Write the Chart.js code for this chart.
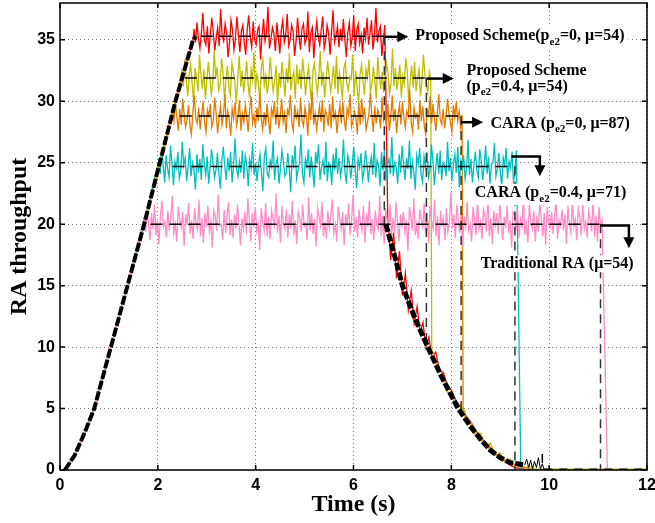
<!DOCTYPE html>
<html>
<head>
<meta charset="utf-8">
<script src="https://cdn.jsdelivr.net/npm/chart.js@4.4.1/dist/chart.umd.min.js"></script>
<style>
  html, body { margin: 0; padding: 0; background: #fff; }
</style>
</head>
<body>
<canvas id="chart" width="655" height="523"></canvas>
<script>
'use strict';

// Axis ticks
const xTicks = [0, 2, 4, 6, 8, 10, 12];
const yTicks = [0, 5, 10, 15, 20, 25, 30, 35];

// Shared ramp (black reference curve)
const rampT = [0.1, 0.3, 0.5, 0.7, 1.04, 1.38, 1.72, 2.04, 2.36, 2.72, 2.78];
const rampV = [0, 1.2, 3.0, 5.0, 10.0, 15.0, 20.0, 25.0, 30.0, 35.0, 35.3];

// Black decay curve
const decayT = [6.66, 6.85, 7.0, 7.25, 7.52, 7.8, 8.14, 8.4, 8.6, 8.8, 9.0, 9.2, 9.5];
const decayV = [20.0, 17.3, 15.0, 12.4, 10.0, 7.6, 5.0, 3.5, 2.5, 1.6, 1.0, 0.6, 0.4];
const zeroNoiseT = [9.5, 9.54, 9.58, 9.62, 9.66, 9.7, 9.74, 9.78, 9.82, 9.86, 9.9];
const zeroNoiseV = [0.4, 0.9, 0.2, 0.8, 0.1, 0.7, 0.2, 1.0, 0.1, 0.5, 0];

// Series
const colors = ['#ff0000', '#bfbf00', '#e07d00', '#00bfbf', '#ff8cc6'];
const levels = [35.3, 31.9, 28.8, 24.7, 20.0];
const plateauStart = [2.74, 2.49, 2.30, 2.02, 1.72];
const plateauEnd = [6.64, 7.58, 8.22, 9.33, 11.08];

const redNoise = [
	35.9, 34.8, 36.4, 35.1, 34.3, 35.6, 37.2, 35.0, 34.6, 36.1,
	33.9, 35.4, 36.8, 35.7, 34.1, 35.2, 36.0, 34.5, 37.5, 35.3,
	34.9, 36.3, 35.5, 33.6, 34.8, 36.6, 35.8, 34.2, 35.1, 36.9,
	35.4, 34.0, 35.7, 36.2, 34.7, 33.8, 35.9, 37.0, 35.2, 34.4,
	36.5, 35.0, 34.6, 35.8, 36.1, 33.4, 35.3, 36.7, 34.9, 35.6,
	37.7, 34.3, 35.1, 36.0, 35.5, 34.1, 36.4, 35.2, 33.9, 35.8,
	36.6, 34.8, 35.4, 37.1, 34.5, 35.0, 36.2, 35.7, 33.7, 34.9,
	36.8, 35.3, 34.2, 35.9, 36.3, 34.7, 35.1, 37.3, 34.0, 35.6,
	36.0, 33.5, 35.4, 36.5, 35.2, 34.6, 35.8, 36.9, 34.3, 35.0,
	36.2, 35.5, 33.8, 35.7, 37.4, 34.8, 35.3, 36.1, 34.4, 35.9,
	34.9, 36.7, 35.0, 33.6, 35.6, 36.4, 34.5, 35.2, 37.0, 34.1,
	35.8, 36.3, 34.7, 35.4, 33.9, 36.0, 35.1, 36.8, 34.6, 35.5,
	36.6, 34.2, 35.3, 37.6, 34.8, 35.7, 36.1, 33.7, 35.0, 36.2
];
const yellowNoise = [
	32.5, 31.2, 33.4, 31.8, 30.4, 32.1, 33.0, 31.5, 29.9, 32.7,
	31.9, 30.8, 33.8, 32.2, 31.0, 32.6, 30.2, 31.7, 33.2, 32.0,
	30.6, 31.4, 34.2, 31.9, 32.8, 30.9, 31.3, 33.5, 32.3, 30.1,
	31.8, 32.9, 31.1, 30.5, 33.1, 32.4, 31.6, 29.8, 32.0, 33.7,
	31.2, 32.5, 30.7, 31.9, 33.3, 31.4, 30.3, 32.6, 31.8, 34.0,
	30.9, 32.2, 31.5, 30.0, 32.8, 33.4, 31.3, 32.1, 30.6, 31.7,
	33.6, 32.0, 30.8, 31.6, 32.9, 29.7, 32.3, 31.1, 33.2, 31.9,
	30.4, 32.7, 31.5, 33.9, 30.9, 31.8, 32.4, 30.2, 33.0, 31.4,
	32.6, 31.0, 33.5, 32.2, 30.5, 31.9, 32.8, 31.3, 29.9, 32.5,
	33.1, 31.7, 30.7, 32.0, 34.1, 31.2, 32.4, 30.3, 31.8, 33.3,
	32.1, 30.8, 31.6, 32.9, 31.0, 33.7, 30.6, 32.3, 31.5, 30.1,
	32.7, 33.2, 31.4, 30.9, 32.0, 31.8, 33.8, 30.4, 32.5, 31.1,
	29.8, 32.2, 33.0, 31.6, 30.5, 32.6, 31.9, 33.4, 30.8, 31.3,
	32.8, 31.7, 30.2, 33.6, 32.1, 31.0, 32.4, 30.7, 31.9, 33.1,
	32.3, 30.6, 31.5, 34.3, 31.2, 32.7, 30.9, 31.8, 33.0, 30.3,
	32.0, 31.4, 33.5, 32.5, 30.0, 31.7, 32.9, 31.1, 33.2, 30.8,
	31.9, 32.6, 30.4, 31.6, 33.8, 32.2, 31.3, 30.7, 32.4, 31.8
];
const orangeNoise = [
	29.2, 28.4, 29.9, 28.7, 27.6, 29.4, 28.1, 30.2, 28.9, 27.9,
	28.5, 29.7, 28.0, 27.3, 29.1, 30.5, 28.6, 28.2, 29.5, 27.7,
	28.9, 30.0, 28.3, 27.5, 29.3, 28.8, 29.8, 27.9, 28.4, 30.3,
	29.0, 27.4, 28.7, 29.6, 28.1, 28.9, 30.6, 27.8, 29.2, 28.5,
	27.2, 29.4, 28.6, 29.9, 28.0, 28.7, 30.1, 27.6, 29.0, 28.3,
	29.7, 28.8, 27.5, 29.3, 30.4, 28.2, 28.9, 27.9, 29.5, 28.4,
	30.7, 28.6, 27.7, 29.1, 28.0, 29.8, 28.5, 27.3, 29.4, 28.8,
	30.0, 28.1, 29.6, 27.8, 28.7, 30.2, 28.3, 29.0, 27.4, 29.3,
	28.9, 30.5, 28.2, 27.6, 29.7, 28.6, 29.2, 27.9, 30.3, 28.4,
	28.0, 29.5, 28.8, 27.2, 29.9, 28.5, 30.8, 28.1, 29.0, 27.7,
	28.7, 29.6, 28.3, 30.1, 27.5, 29.3, 28.9, 28.0, 29.8, 27.8,
	30.4, 28.6, 29.1, 27.4, 28.8, 29.7, 28.2, 30.0, 28.5, 27.6,
	29.4, 28.9, 30.6, 27.9, 28.4, 29.2, 28.7, 27.3, 29.9, 28.1,
	30.2, 28.6, 29.5, 27.7, 28.3, 29.0, 30.7, 28.8, 27.5, 29.6,
	28.2, 29.3, 28.9, 27.8, 30.3, 28.5, 29.1, 28.0, 29.8, 27.6,
	28.7, 30.5, 28.4, 29.4, 27.4, 28.9, 29.7, 28.1, 30.0, 28.6,
	27.9, 29.2, 28.8, 30.9, 28.3, 27.5, 29.5, 28.7, 29.0, 27.7,
	30.1, 28.4, 29.6, 28.0, 27.3, 29.3, 28.9, 30.4, 28.2, 29.8,
	28.6, 27.6, 29.1, 30.6, 28.5, 28.1, 29.4, 27.8, 28.8, 30.2,
	29.0, 28.3, 27.5, 29.7, 28.7, 30.0, 28.4, 29.2, 27.9, 28.9
];
const cyanNoise = [
	25.2, 24.1, 26.0, 24.8, 23.4, 25.6, 24.5, 23.8, 26.4, 24.9,
	23.2, 25.1, 24.6, 25.9, 23.7, 24.3, 26.7, 24.8, 25.4, 23.5,
	24.7, 26.2, 23.9, 25.0, 24.4, 22.8, 25.7, 24.2, 25.3, 23.6,
	26.5, 24.9, 24.0, 25.5, 23.3, 24.6, 26.1, 25.0, 23.8, 24.4,
	25.8, 24.1, 22.9, 25.2, 26.3, 24.7, 23.6, 25.4, 24.3, 25.9,
	23.4, 24.8, 27.0, 24.5, 23.9, 25.1, 24.2, 26.0, 23.7, 25.6,
	24.9, 23.1, 25.3, 24.6, 26.6, 24.0, 25.0, 23.5, 24.8, 25.7,
	24.3, 22.7, 25.5, 26.2, 24.1, 23.8, 25.2, 24.7, 26.8, 23.6,
	24.9, 25.4, 23.3, 24.5, 26.0, 25.1, 23.9, 24.2, 25.8, 24.6,
	22.6, 25.6, 24.8, 26.4, 23.7, 24.4, 25.0, 27.3, 24.1, 23.4,
	25.3, 24.7, 26.1, 23.8, 25.5, 24.3, 23.0, 25.9, 24.9, 26.5,
	23.6, 24.6, 25.2, 24.0, 26.7, 23.5, 25.0, 24.8, 23.2, 25.7,
	24.4, 26.2, 24.1, 25.4, 23.9, 24.7, 26.9, 24.2, 23.3, 25.6,
	25.1, 23.7, 24.9, 26.3, 24.5, 22.9, 25.3, 24.6, 25.8, 23.6,
	24.3, 26.0, 25.0, 23.4, 24.8, 25.5, 24.0, 26.6, 23.8, 25.2,
	24.7, 23.1, 25.9, 24.4, 26.1, 23.5, 24.9, 25.3, 24.1, 27.1,
	23.9, 25.0, 24.6, 23.3, 25.7, 24.2, 26.4, 24.8, 23.6, 25.4,
	24.5, 26.8, 23.7, 25.1, 24.3, 22.8, 25.6, 24.9, 26.2, 24.0,
	23.4, 25.5, 24.7, 25.9, 23.8, 24.4, 26.5, 25.2, 23.2, 24.6,
	25.8, 24.1, 26.0, 23.6, 25.0, 24.8, 23.9, 26.7, 24.3, 25.4,
	23.5, 24.9, 25.7, 24.2, 26.3, 23.0, 25.1, 24.6, 25.6, 23.7,
	24.5, 26.9, 24.0, 25.3, 23.4, 24.8, 25.9, 24.4, 23.8, 26.1,
	25.2, 23.6, 24.7, 26.4, 24.1, 25.5, 23.3, 24.9, 25.0, 26.6,
	23.9, 24.5, 25.8, 24.3, 23.1, 25.4, 24.8, 26.2, 23.7, 25.1,
	24.6, 25.9, 23.5, 24.2, 26.0
];
const pinkNoise = [
	20.5, 19.4, 21.2, 20.0, 18.7, 20.9, 19.6, 21.6, 19.1, 20.3,
	18.4, 20.7, 21.9, 19.8, 20.2, 18.9, 21.1, 19.5, 20.6, 22.3,
	19.3, 20.0, 18.6, 21.4, 20.4, 19.7, 21.0, 18.2, 20.8, 19.9,
	21.7, 19.2, 20.3, 18.8, 21.3, 20.1, 19.6, 22.0, 19.0, 20.5,
	18.5, 20.9, 19.8, 21.5, 19.4, 20.2, 18.1, 21.1, 20.6, 19.5,
	22.4, 19.9, 20.0, 18.7, 21.2, 19.3, 20.7, 21.8, 19.1, 20.4,
	18.9, 20.8, 19.7, 21.6, 20.1, 18.3, 20.5, 19.6, 21.0, 19.2,
	22.1, 20.3, 18.6, 20.9, 19.8, 21.4, 19.4, 20.0, 17.9, 21.3,
	20.2, 19.5, 21.7, 19.0, 20.6, 18.8, 21.1, 20.4, 19.9, 22.5,
	19.3, 20.7, 18.5, 21.5, 20.0, 19.6, 21.2, 18.9, 20.8, 19.7,
	21.9, 19.1, 20.3, 18.4, 21.0, 20.5, 19.4, 21.6, 19.8, 20.1,
	18.7, 22.2, 19.5, 20.9, 19.2, 20.4, 18.2, 21.3, 20.6, 19.9,
	21.8, 19.0, 20.2, 18.8, 21.1, 19.7, 20.7, 22.0, 19.3, 20.0,
	18.6, 21.4, 20.5, 19.6, 21.0, 18.3, 20.8, 19.9, 21.7, 19.1,
	20.3, 22.4, 19.4, 20.6, 18.9, 21.2, 20.1, 19.5, 21.5, 18.5,
	20.9, 19.8, 21.9, 19.2, 20.4, 18.7, 21.1, 20.0, 19.6, 22.3,
	19.0, 20.7, 18.4, 21.3, 20.2, 19.7, 21.6, 18.9, 20.5, 19.3,
	21.8, 20.1, 18.6, 20.8, 19.9, 21.0, 19.4, 20.3, 17.8, 21.4,
	20.6, 19.5, 22.1, 19.1, 20.0, 18.8, 21.2, 20.4, 19.8, 21.7,
	19.2, 20.9, 18.5, 21.5, 20.2, 19.6, 22.0, 19.0, 20.7, 18.3,
	21.1, 19.9, 20.5, 18.7, 21.3, 19.4, 20.1, 22.6, 19.7, 20.8,
	18.9, 21.6, 20.3, 19.3, 21.0, 18.2, 20.6, 19.8, 21.8, 19.5,
	20.0, 18.6, 21.4, 20.4, 19.1, 21.9, 19.6, 20.2, 18.8, 21.2,
	20.7, 19.4, 22.2, 19.0, 20.5, 18.4, 21.1, 19.9, 20.9, 19.2,
	21.7, 20.1, 18.7, 20.6, 19.7, 21.5, 19.3, 20.3, 18.1, 21.0,
	20.8, 19.5, 21.3, 18.9, 20.4, 19.8, 22.4, 19.1, 20.0, 18.5,
	21.6, 20.2, 19.6, 21.1, 18.6, 20.7, 19.4, 21.8, 20.5, 19.0,
	20.9, 18.3, 21.4, 20.1, 19.7, 21.0, 19.2, 20.6, 22.1, 18.8,
	20.3, 19.9, 21.2, 19.5, 20.8, 18.4, 21.5, 20.0, 19.3, 21.9,
	19.8, 20.4, 18.7, 21.3, 20.6, 19.1, 21.7, 19.6, 20.2, 18.9,
	21.1, 20.5, 19.4, 22.0, 19.0, 20.7, 18.6, 21.4, 19.8, 20.3
];
const noises = [redNoise, yellowNoise, orangeNoise, cyanNoise, pinkNoise];

// Tails after each plateau
const redTailT = [6.7, 6.76, 6.82, 6.88, 6.94, 7.0, 7.06, 7.12, 7.18, 7.24, 7.3, 7.36, 7.42, 7.48, 7.54, 7.6, 7.68, 7.76, 7.84, 7.92, 8.0, 8.1, 8.2, 8.3, 8.4, 8.5, 8.6, 8.7, 8.8, 8.9, 9.0, 9.1, 9.2, 9.3, 9.6, 12];
const redTailV = [20.6, 17.1, 19.3, 15.6, 17.8, 14.2, 16.0, 13.0, 14.6, 11.9, 13.3, 11.2, 12.0, 10.0, 10.8, 9.2, 9.6, 8.1, 7.9, 6.8, 6.5, 5.6, 5.1, 4.4, 3.9, 3.2, 2.7, 2.1, 1.8, 1.3, 1.0, 0.7, 0.4, 0.2, 0, 0];
const yellowTailT = [7.6, 7.7, 7.8, 7.9, 8.0, 8.1, 8.2, 8.3, 8.4, 8.5, 8.6, 8.7, 8.8, 8.9, 9.0, 9.1, 9.2, 9.3, 9.4, 9.5, 9.6, 9.7, 9.8, 12];
const yellowTailV = [9.8, 8.5, 7.9, 6.4, 6.2, 5.0, 5.3, 4.0, 3.9, 2.8, 3.0, 1.9, 2.2, 1.2, 1.4, 0.6, 0.9, 0.3, 0.6, 0.2, 0.3, 0.1, 0, 0];
const orangeTailT = [8.24, 8.3, 8.4, 8.5, 8.6, 8.7, 8.8, 8.9, 9.0, 9.2, 9.4, 9.7, 12];
const orangeTailV = [5.1, 4.3, 3.6, 3.2, 2.5, 2.1, 1.6, 1.3, 1.0, 0.6, 0.3, 0, 0];
const cyanTailT = [9.42, 12];
const cyanTailV = [0, 0];
const pinkTailT = [11.19, 12];
const pinkTailV = [0, 0];
const tailsT = [redTailT, yellowTailT, orangeTailT, cyanTailT, pinkTailT];
const tailsV = [redTailV, yellowTailV, orangeTailV, cyanTailV, pinkTailV];

// Dashed reference plateaus and drops
const dashStart = [2.88, 2.55, 2.45, 2.3, 1.85];
const dashEnd = [6.63, 7.49, 8.2, 9.3, 11.05];
const dropT = [6.63, 7.49, 8.2, 9.3, 11.05, 9.86];
const dropTop = [35.3, 31.9, 28.8, 24.7, 20.0, 1.3];
const dropBottom = [20.0, 10.0, 4.6, 0, 0, 0];

// Annotations (data coordinates)
const arrowFromT = [6.63, 7.49, 8.2];
const arrowToT = [7.12, 8.05, 8.65];
const arrowV = [35.25, 31.85, 28.3];
const elbowFromT = [9.23, 11.04];
const elbowCornerT = [9.81, 11.63];
const elbowV = [25.5, 19.9];
const elbowTipV = [23.9, 18.05];

const labelParts = [
	['Proposed Scheme(p', 'e2', '=0, μ=54)'],
	['Proposed Scheme'],
	['(p', 'e2', '=0.4, μ=54)'],
	['CARA (p', 'e2', '=0, μ=87)'],
	['CARA (p', 'e2', '=0.4, μ=71)'],
	['Traditional RA (μ=54)']
];
const labelT = [7.26, 8.31, 8.31, 8.8, 8.48, 8.6];
const labelV = [35.3, 32.5, 31.2, 28.2, 22.55, 16.75];

function pts(ts, vs) {
	return ts.map(function (t, i) { return { x: t, y: vs[i] }; });
}

function evenTimes(t0, t1, n) {
	const out = [];
	for (let i = 0; i < n; i++) out.push(t0 + (t1 - t0) * i / (n - 1));
	return out;
}

const datasets = [];

function line(data, color, width, dash, order) {
	datasets.push({
		data: data,
		borderColor: color,
		borderWidth: width,
		borderDash: dash || [],
		pointRadius: 0,
		fill: false,
		tension: 0,
		order: order
	});
}

// black references (on top)
line(pts(rampT, rampV), '#000', 4, [9, 2], 1);
line(pts(decayT, decayV), '#000', 5, [8, 2], 1);
line(pts(zeroNoiseT, zeroNoiseV), '#000', 1, [], 1);
line([{ x: 9.9, y: 0 }, { x: 12, y: 0 }], '#000', 3, [8, 7], 1);
line([{ x: 9.7, y: 0 }, { x: 12, y: 0 }], '#bfbf00', 3, [], 2);
levels.forEach(function (lv, i) {
	line([{ x: dashStart[i], y: lv }, { x: dashEnd[i], y: lv }], '#000', 1.5, [12, 7], 1);
});
dropT.forEach(function (t, i) {
	line([{ x: t, y: dropTop[i] }, { x: t, y: dropBottom[i] }], i === 5 ? '#000' : '#333', 1.5, [9, 6], 1);
});

// noisy series, red drawn first (bottom)
levels.forEach(function (lv, i) {
	const data = [];
	rampT.forEach(function (t, k) {
		if (rampV[k] < lv) data.push({ x: t, y: rampV[k] });
	});
	const nt = evenTimes(plateauStart[i], plateauEnd[i], noises[i].length);
	nt.forEach(function (t, k) { data.push({ x: t, y: noises[i][k] }); });
	tailsT[i].forEach(function (t, k) { data.push({ x: t, y: tailsV[i][k] }); });
	line(data, colors[i], 1.3, [], 7 - i);
});

const mainFont = 'bold 16px "Liberation Serif"';
const subFont = 'bold 11px "Liberation Serif"';

function drawLabel(ctx, parts, x, y) {
	let w = 0;
	parts.forEach(function (p, i) {
		ctx.font = i % 2 ? subFont : mainFont;
		w += ctx.measureText(p).width;
	});
	ctx.fillStyle = '#fff';
	ctx.fillRect(x - 4, y - 9, w + 8, parts.length > 1 ? 21 : 17);
	ctx.fillStyle = '#000';
	ctx.textBaseline = 'middle';
	ctx.textAlign = 'left';
	let cx = x;
	parts.forEach(function (p, i) {
		ctx.font = i % 2 ? subFont : mainFont;
		ctx.fillText(p, cx, i % 2 ? y + 6 : y);
		cx += ctx.measureText(p).width;
	});
}

function head(ctx, x, y, dir) {
	ctx.beginPath();
	if (dir === 'right') {
		ctx.moveTo(x, y); ctx.lineTo(x - 11, y - 5.5); ctx.lineTo(x - 11, y + 5.5);
	} else {
		ctx.moveTo(x, y); ctx.lineTo(x - 5.5, y - 11); ctx.lineTo(x + 5.5, y - 11);
	}
	ctx.closePath();
	ctx.fill();
}

const overlay = {
	id: 'overlay',
	afterDatasetsDraw: function (chart) {
		const ctx = chart.ctx, a = chart.chartArea;
		const xs = chart.scales.x, ys = chart.scales.y;
		const px = function (t) { return xs.getPixelForValue(t); };
		const py = function (v) { return ys.getPixelForValue(v); };
		ctx.save();

		// box and inward ticks
		ctx.strokeStyle = '#000';
		ctx.lineWidth = 1.5;
		ctx.strokeRect(a.left, a.top, a.right - a.left, a.bottom - a.top);
		ctx.beginPath();
		xTicks.forEach(function (t) {
			const x = px(t);
			ctx.moveTo(x, a.bottom); ctx.lineTo(x, a.bottom - 5);
			ctx.moveTo(x, a.top); ctx.lineTo(x, a.top + 5);
		});
		yTicks.forEach(function (v) {
			const y = py(v);
			ctx.moveTo(a.left, y); ctx.lineTo(a.left + 5, y);
			ctx.moveTo(a.right, y); ctx.lineTo(a.right - 5, y);
		});
		ctx.stroke();

		// labels
		labelParts.forEach(function (parts, i) {
			drawLabel(ctx, parts, px(labelT[i]), py(labelV[i]));
		});

		// arrows
		ctx.fillStyle = '#000';
		ctx.lineWidth = 2.5;
		arrowFromT.forEach(function (t, i) {
			const y = py(arrowV[i]);
			ctx.beginPath();
			ctx.moveTo(px(t), y); ctx.lineTo(px(arrowToT[i]) - 8, y);
			ctx.stroke();
			head(ctx, px(arrowToT[i]), y, 'right');
		});
		elbowFromT.forEach(function (t, i) {
			const y = py(elbowV[i]), xc = px(elbowCornerT[i]);
			ctx.beginPath();
			ctx.moveTo(px(t), y); ctx.lineTo(xc, y); ctx.lineTo(xc, py(elbowTipV[i]) - 8);
			ctx.stroke();
			head(ctx, xc, py(elbowTipV[i]), 'down');
		});
		ctx.restore();
	}
};

new Chart(document.getElementById('chart'), {
	type: 'line',
	data: { datasets: datasets },
	options: {
		responsive: false,
		animation: false,
		layout: { padding: { top: 3, right: 8, left: 0, bottom: 0 } },
		plugins: { legend: { display: false }, tooltip: { enabled: false } },
		scales: {
			x: {
				type: 'linear',
				min: 0,
				max: 12,
				afterBuildTicks: function (s) { s.ticks = xTicks.map(function (v) { return { value: v }; }); },
				afterFit: function (s) { s.height = 53; s.paddingLeft = 0; s.paddingRight = 0; },
				grid: { color: '#777', lineWidth: 1, drawTicks: false },
				border: { display: false, dash: [1, 3] },
				ticks: { color: '#000', padding: 6, maxRotation: 0, font: { family: '"Liberation Sans"', size: 16, weight: 'bold' } },
				title: { display: true, text: 'Time (s)', color: '#000', padding: { top: 0, bottom: 4 }, font: { family: '"Liberation Serif"', size: 24, weight: 'bold' } }
			},
			y: {
				type: 'linear',
				min: 0,
				max: 38,
				afterBuildTicks: function (s) { s.ticks = yTicks.map(function (v) { return { value: v }; }); },
				afterFit: function (s) { s.width = 60; s.paddingTop = 0; s.paddingBottom = 0; },
				grid: { color: '#777', lineWidth: 1, drawTicks: false },
				border: { display: false, dash: [1, 3] },
				ticks: { color: '#000', padding: 5, font: { family: '"Liberation Sans"', size: 16, weight: 'bold' } },
				title: { display: true, text: 'RA throughput', color: '#000', padding: { top: 5, bottom: 0 }, font: { family: '"Liberation Serif"', size: 24, weight: 'bold' } }
			}
		}
	},
	plugins: [overlay]
});
</script>
</body>
</html>
